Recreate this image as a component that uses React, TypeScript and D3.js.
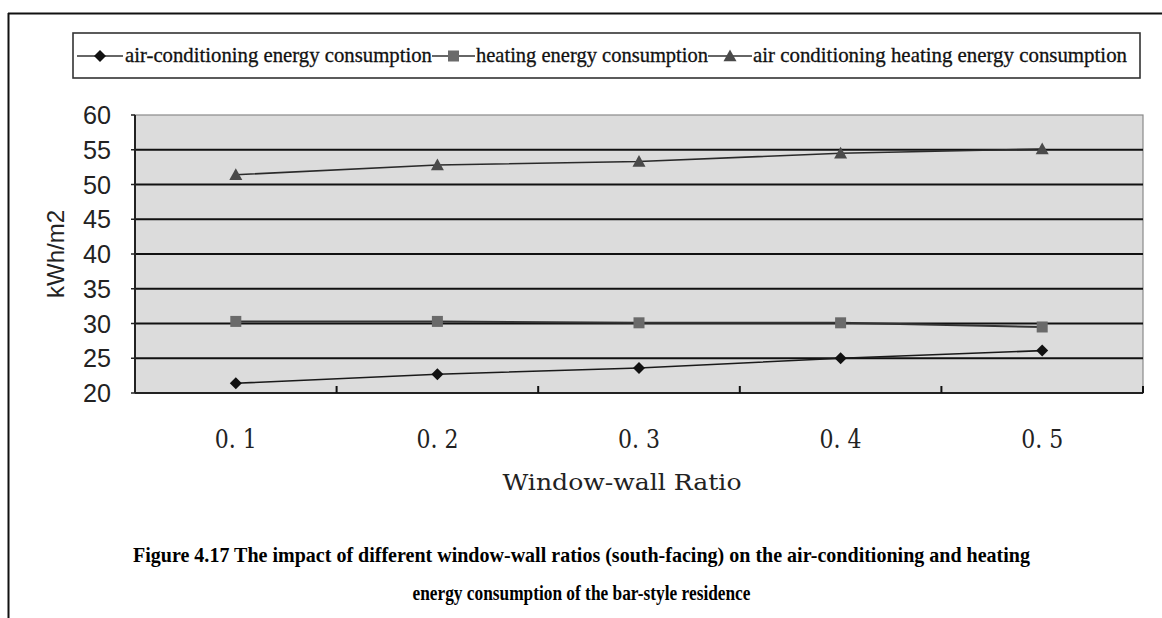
import React from "react";
import * as d3 from "d3";

// Window-wall ratios on the x axis
const ratios = ["0. 1", "0. 2", "0. 3", "0. 4", "0. 5"];

// Energy consumption, kWh/m2
const acValues = [21.4, 22.7, 23.6, 25.0, 26.1];
const heatingValues = [30.3, 30.3, 30.1, 30.1, 29.5];
const totalValues = [51.4, 52.8, 53.3, 54.5, 55.1];

const yTicks = [20, 25, 30, 35, 40, 45, 50, 55, 60];

const legendLabels = [
  "air-conditioning energy consumption",
  "heating energy consumption",
  "air conditioning heating energy consumption",
];

const W = 1162;
const H = 618;
const plot = { left: 135, right: 1143, top: 115, bottom: 393 };

const x = d3.scaleBand<string>().domain(ratios).range([plot.left, plot.right]);
const y = d3.scaleLinear().domain([20, 60]).range([plot.bottom, plot.top]);

const cx = (i: number) => (x(ratios[i]) as number) + x.bandwidth() / 2;

const line = d3
  .line<number>()
  .x((_, i) => cx(i))
  .y((v) => y(v));

const diamond = (px: number, py: number, r = 6) =>
  `M${px},${py - r}L${px + r},${py}L${px},${py + r}L${px - r},${py}Z`;
const triangle = (px: number, py: number, r = 6.5) =>
  `M${px},${py - r}L${px + r},${py + r * 0.8}L${px - r},${py + r * 0.8}Z`;

function Marker({ kind, px, py }: { kind: string; px: number; py: number }) {
  if (kind === "diamond") return <path d={diamond(px, py)} fill="#111" />;
  if (kind === "square")
    return <rect x={px - 5.5} y={py - 5.5} width={11} height={11} fill="#6a6a6a" />;
  return <path d={triangle(px, py)} fill="#4a4a4a" />;
}

const series = [
  { values: acValues, kind: "diamond", stroke: "#1a1a1a", width: 1.6 },
  { values: heatingValues, kind: "square", stroke: "#333", width: 2 },
  { values: totalValues, kind: "triangle", stroke: "#2a2a2a", width: 1.6 },
];

// Legend layout: marker stub then label, left to right
const legendItems = [
  { kind: "diamond", lineX0: 77, lineX1: 123, textX: 125, textLen: 307 },
  { kind: "square", lineX0: 432, lineX1: 475, textX: 476, textLen: 232 },
  { kind: "triangle", lineX0: 708, lineX1: 752, textX: 753, textLen: 374 },
];

export default function App() {
  const boundaries = ratios.slice(1).map((r) => x(r) as number).concat([plot.right]);
  return (
    <svg
      width={W}
      height={H}
      viewBox={`0 0 ${W} ${H}`}
      style={{ position: "absolute", left: 0, top: 0, background: "#fff" }}
    >
      <rect x={0} y={0} width={W} height={H} fill="#fff" />
      {/* outer frame */}
      <line x1={8} y1={13.5} x2={W} y2={13.5} stroke="#111" strokeWidth={2} />
      <line x1={8.5} y1={13} x2={8.5} y2={H} stroke="#111" strokeWidth={2} />

      {/* legend */}
      <rect x={73} y={33} width={1067} height={45} fill="#fff" stroke="#333" strokeWidth={1.6} />
      {legendItems.map((it, i) => (
        <g key={i}>
          <line x1={it.lineX0} y1={56} x2={it.lineX1} y2={56} stroke="#333" strokeWidth={1.5} />
          <Marker kind={it.kind} px={(it.lineX0 + it.lineX1) / 2} py={56} />
          <text
            x={it.textX}
            y={62}
            fontFamily="'Liberation Serif', 'Times New Roman', serif"
            fontSize={21}
            fill="#111"
            stroke="#111"
            strokeWidth={0.3}
            textLength={it.textLen}
            lengthAdjust="spacingAndGlyphs"
          >
            {legendLabels[i]}
          </text>
        </g>
      ))}

      {/* plot area */}
      <rect
        x={plot.left}
        y={plot.top}
        width={plot.right - plot.left}
        height={plot.bottom - plot.top}
        fill="#dcdcdc"
        stroke="#8a8a8a"
        strokeWidth={1.2}
      />
      {yTicks
        .filter((t) => t > 20 && t < 60)
        .map((t) => (
          <line key={t} x1={plot.left} x2={plot.right} y1={y(t)} y2={y(t)} stroke="#111" strokeWidth={2} />
        ))}
      {/* axes */}
      <line x1={plot.left} x2={plot.right} y1={plot.bottom} y2={plot.bottom} stroke="#222" strokeWidth={2} />
      <line x1={plot.left} x2={plot.left} y1={plot.top} y2={plot.bottom} stroke="#222" strokeWidth={2} />
      {yTicks.map((t) => (
        <line key={"yt" + t} x1={plot.left - 4} x2={plot.left} y1={y(t)} y2={y(t)} stroke="#222" strokeWidth={1.5} />
      ))}
      {boundaries.map((bx, i) => (
        <line key={"xt" + i} x1={bx} x2={bx} y1={plot.bottom} y2={plot.bottom - 7} stroke="#111" strokeWidth={2} />
      ))}

      {/* series */}
      {series.map((s, si) => (
        <g key={si}>
          <path d={line(s.values) as string} fill="none" stroke={s.stroke} strokeWidth={s.width} />
          {s.values.map((v, i) => (
            <Marker key={i} kind={s.kind} px={cx(i)} py={y(v)} />
          ))}
        </g>
      ))}

      {/* y tick labels */}
      {yTicks.map((t) => (
        <text
          key={"yl" + t}
          x={111}
          y={y(t) + 9}
          textAnchor="end"
          fontFamily="'Liberation Sans', Arial, sans-serif"
          fontSize={25}
          fill="#222"
          textLength={28}
          lengthAdjust="spacingAndGlyphs"
        >
          {t}
        </text>
      ))}
      <text
        transform={`translate(64,254) rotate(-90)`}
        textAnchor="middle"
        fontFamily="'Liberation Sans', Arial, sans-serif"
        fontSize={24}
        fill="#222"
      >
        kWh/m2
      </text>

      {/* x tick labels */}
      {ratios.map((r, i) => (
        <text
          key={"xl" + r}
          x={cx(i)}
          y={448}
          textAnchor="middle"
          fontFamily="'DejaVu Serif', serif"
          fontSize={26}
          fill="#222"
          textLength={42}
          lengthAdjust="spacingAndGlyphs"
        >
          {r}
        </text>
      ))}
      <text
        x={622}
        y={490}
        textAnchor="middle"
        fontFamily="'DejaVu Serif', serif"
        fontSize={23}
        fill="#222"
        textLength={239}
        lengthAdjust="spacingAndGlyphs"
      >
        Window-wall Ratio
      </text>

      {/* caption */}
      <text
        x={581.5}
        y={562}
        textAnchor="middle"
        fontFamily="'Liberation Serif', 'Times New Roman', serif"
        fontWeight="bold"
        fontSize={21}
        fill="#000"
        textLength={897}
        lengthAdjust="spacingAndGlyphs"
      >
        Figure 4.17 The impact of different window-wall ratios (south-facing) on the air-conditioning and heating
      </text>
      <text
        x={581.5}
        y={600}
        textAnchor="middle"
        fontFamily="'Liberation Serif', 'Times New Roman', serif"
        fontWeight="bold"
        fontSize={21}
        fill="#000"
        textLength={338}
        lengthAdjust="spacingAndGlyphs"
      >
        energy consumption of the bar-style residence
      </text>
    </svg>
  );
}
